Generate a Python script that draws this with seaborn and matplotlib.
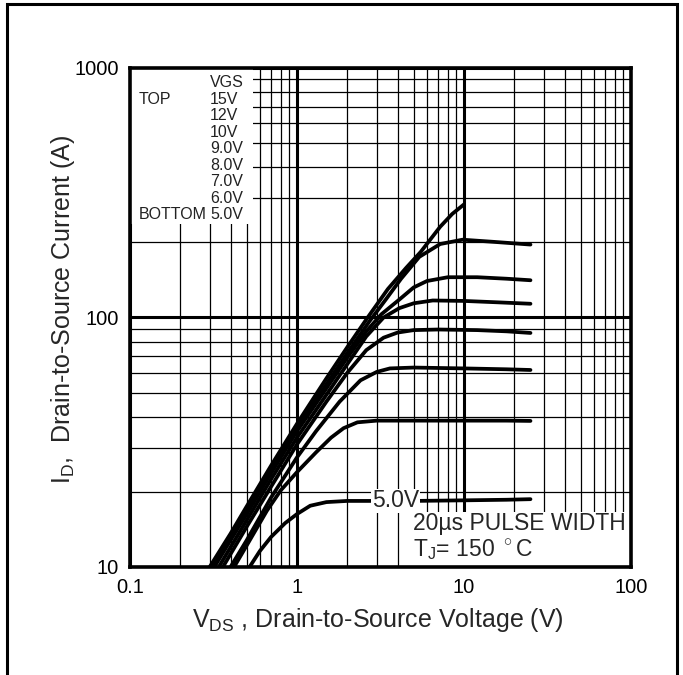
import matplotlib
matplotlib.use("Agg")
import matplotlib.pyplot as plt
import matplotlib.ticker as mticker
from matplotlib.patches import Rectangle
import numpy as np
import pandas as pd
import seaborn as sns

# ---- data (VDS in V, ID in A) ----
vgs_labels = ["15V", "12V", "10V", "9.0V", "8.0V", "7.0V", "6.0V", "5.0V"]

vds_15 = [0.30, 0.40, 0.50, 0.70, 1.0, 1.5, 2.0, 2.65, 3.5, 4.5, 5.5, 7.2, 8.5, 10.0]
id_15 = [10, 13.6, 17.5, 25.5, 37.5, 57, 76, 100, 130, 158, 183, 231, 260, 284]

vds_12 = [0.31, 0.40, 0.50, 0.70, 1.0, 1.5, 2.0, 2.7, 3.4, 4.2, 5.4, 7.2, 9.8, 15, 25]
id_12 = [10, 13.2, 16.8, 24.5, 36, 54, 72, 96, 118, 143, 175, 197, 205, 201, 196]

vds_10 = [0.32, 0.40, 0.50, 0.70, 1.0, 1.5, 2.0, 2.6, 3.2, 4.1, 5.0, 6.0, 8.0, 12, 18, 25]
id_10 = [10, 12.8, 16.3, 23.8, 35, 52, 69, 88, 103, 118, 132, 140, 145, 145, 143, 141]

vds_9 = [0.34, 0.40, 0.50, 0.70, 1.0, 1.5, 2.0, 2.6, 3.3, 4.1, 5.0, 6.5, 10, 16, 25]
id_9 = [10, 12.0, 15.4, 22.5, 33, 49, 65, 84, 100, 109, 114, 117, 116.5, 115, 113.5]

vds_8 = [0.36, 0.50, 0.70, 1.0, 1.5, 2.0, 2.6, 3.3, 4.0, 5.0, 7.0, 12, 18, 25]
id_8 = [10, 14.5, 21, 31, 46, 60, 74, 83, 87, 89, 89.5, 89, 88, 86.7]

vds_7 = [0.40, 0.50, 0.70, 1.0, 1.3, 1.8, 2.4, 3.0, 3.6, 5.0, 10, 18, 25]
id_7 = [10, 12.8, 19, 27.5, 35, 46, 56, 60.5, 62.5, 63, 62.5, 62, 61.6]

vds_6 = [0.42, 0.50, 0.66, 0.80, 1.0, 1.3, 1.6, 1.9, 2.3, 3.0, 5.0, 10, 18, 25]
id_6 = [10, 12.2, 16.8, 20.3, 24, 28.8, 33, 36, 38, 38.6, 38.6, 38.6, 38.6, 38.5]

vds_5 = [0.52, 0.60, 0.70, 0.85, 1.0, 1.2, 1.5, 2.0, 3.0, 5.0, 10, 18, 25]
id_5 = [10, 11.6, 13.2, 15, 16.3, 17.6, 18.2, 18.4, 18.4, 18.4, 18.5, 18.6, 18.7]

curves = {
    "15V": (vds_15, id_15), "12V": (vds_12, id_12), "10V": (vds_10, id_10),
    "9.0V": (vds_9, id_9), "8.0V": (vds_8, id_8), "7.0V": (vds_7, id_7),
    "6.0V": (vds_6, id_6), "5.0V": (vds_5, id_5),
}

rows = []
for name, (xs, ys) in curves.items():
    for i, (x, y) in enumerate(zip(xs, ys)):
        rows.append({"vgs": name, "order": i, "vds": x, "id": y})
df = pd.DataFrame(rows)

sns.set_style("white")
plt.rcParams["font.family"] = ["Liberation Sans", "DejaVu Sans"]
plt.rcParams["mathtext.fontset"] = "custom"
plt.rcParams["mathtext.rm"] = "Liberation Sans"

fig = plt.figure(figsize=(6.83, 6.75), dpi=100)
ax = fig.add_axes([0.1903, 0.16, 0.7336, 0.7393])

sns.lineplot(
    data=df, x="vds", y="id", hue="vgs", units="vgs", estimator=None,
    sort=False, palette={k: "black" for k in vgs_labels}, legend=False,
    linewidth=2.7, ax=ax, zorder=3,
)

ax.set_xscale("log")
ax.set_yscale("log")
ax.set_xlim(0.1, 100)
ax.set_ylim(10, 1000)

ax.set_xticks([0.1, 1, 10, 100], labels=["0.1", "1", "10", "100"])
ax.set_yticks([10, 100, 1000], labels=["10", "100", "1000"])
ax.xaxis.set_minor_locator(mticker.LogLocator(base=10, subs=np.arange(2, 10)))
ax.yaxis.set_minor_locator(mticker.LogLocator(base=10, subs=np.arange(2, 10)))
ax.xaxis.set_minor_formatter(mticker.NullFormatter())
ax.yaxis.set_minor_formatter(mticker.NullFormatter())
ax.tick_params(which="both", length=0, labelsize=14.5, colors="black")
ax.tick_params(axis="x", pad=8)
ax.tick_params(axis="y", pad=8)

ax.set_axisbelow(True)
ax.grid(which="major", color="black", linewidth=2.2)
ax.grid(which="minor", color="black", linewidth=0.9)
for sp in ax.spines.values():
    sp.set_linewidth(2.6)
    sp.set_color("black")

# white panels behind the legend block and the test-condition note
ax.add_patch(Rectangle((0, 0.6875), 0.2455, 0.3125, transform=ax.transAxes,
                       facecolor="white", edgecolor="none", zorder=1))
ax.add_patch(Rectangle((0.559, 0), 0.441, 0.110, transform=ax.transAxes,
                       facecolor="white", edgecolor="none", zorder=1))

# VGS legend block
leg_rows = ["VGS"] + vgs_labels
y0, dy = 0.9706, 0.0331
for i, txt in enumerate(leg_rows):
    ax.text(0.16, y0 - i * dy, txt, transform=ax.transAxes, ha="left",
            va="center", fontsize=11.5, color="#222222", zorder=4)
ax.text(0.0166, y0 - dy, "TOP", transform=ax.transAxes, ha="left",
        va="center", fontsize=11.5, color="#222222", zorder=4)
ax.text(0.0166, y0 - 8 * dy, "BOTTOM", transform=ax.transAxes, ha="left",
        va="center", fontsize=11.5, color="#222222", zorder=4)

ax.text(3.9, 18.4, "5.0V", ha="center", va="center", fontsize=16.5,
        zorder=5, bbox=dict(facecolor="white", edgecolor="none", pad=0.5))
ax.text(0.565, 0.088, "20\u00b5s PULSE WIDTH", transform=ax.transAxes,
        ha="left", va="center", fontsize=16.5, zorder=5)
ax.text(0.565, 0.034, r"$\mathregular{T_J}$= 150 $^\circ$C", transform=ax.transAxes,
        ha="left", va="center", fontsize=16.5, zorder=5)

ax.set_xlabel(r"$\mathregular{V_{DS}}$ , Drain-to-Source Voltage (V)", fontsize=18)
ax.set_ylabel(r"$\mathregular{I_D}$,  Drain-to-Source Current (A)", fontsize=18)
ax.xaxis.set_label_coords(0.494, -0.078)
ax.yaxis.set_label_coords(-0.106, 0.515)

# outer frame of the figure (bottom edge runs off the image)
fig.add_artist(Rectangle((0.0102, -0.05), 0.981, 1.044, transform=fig.transFigure,
                         fill=False, edgecolor="black", linewidth=2.2))

fig.savefig("out.png", dpi=100)
